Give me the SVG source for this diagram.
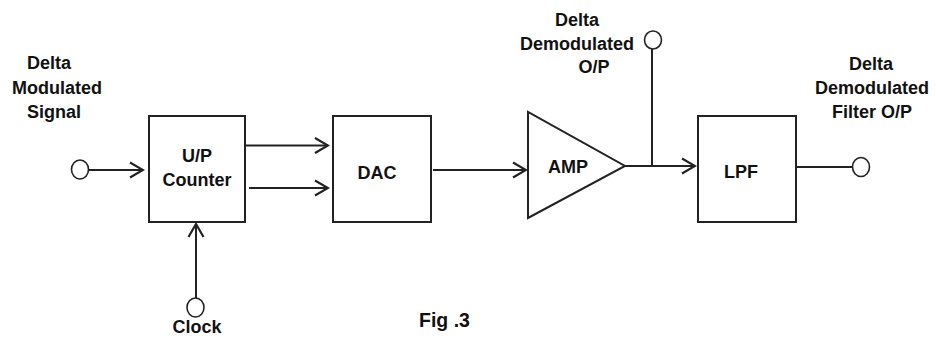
<svg xmlns="http://www.w3.org/2000/svg" width="936" height="338" viewBox="0 0 936 338">
<style>
.box{fill:#fff;stroke:#222;stroke-width:2}
.ln{fill:none;stroke:#222;stroke-width:2}
.term{fill:none;stroke:#222;stroke-width:1.6}
text{font-family:"Liberation Sans",Arial,sans-serif;font-weight:bold;font-size:18px;fill:#111}
.c{text-anchor:middle}
</style>
<defs>
<marker id="arr" markerUnits="userSpaceOnUse" markerWidth="16" markerHeight="18" refX="14" refY="9" orient="auto" viewBox="0 0 16 18">
<path d="M1,1.5 L14,9 L1,16.5" fill="none" stroke="#222" stroke-width="2.2"/>
</marker>
</defs>
<rect width="936" height="338" fill="#fff"/>
<g id="connectors">
<line class="ln" x1="89" y1="170" x2="143" y2="170" marker-end="url(#arr)"/>
<line class="ln" x1="245" y1="145.5" x2="328" y2="145.5" marker-end="url(#arr)"/>
<line class="ln" x1="249" y1="188" x2="328" y2="188" marker-end="url(#arr)"/>
<line class="ln" x1="433" y1="170" x2="526" y2="170" marker-end="url(#arr)"/>
<line class="ln" x1="625" y1="166" x2="695" y2="166" marker-end="url(#arr)"/>
<line class="ln" x1="652" y1="49" x2="652" y2="166"/>
<line class="ln" x1="794" y1="167" x2="852" y2="167"/>
<line class="ln" x1="196" y1="298" x2="196" y2="224" marker-end="url(#arr)"/>
</g>
<g id="in-terminal">
<ellipse class="term" cx="80" cy="169.5" rx="8.5" ry="9.5"/>
<text x="27" y="69">Delta</text>
<text x="12" y="94">Modulated</text>
<text x="27" y="118">Signal</text>
</g>
<g id="counter">
<rect class="box" x="149" y="116" width="96" height="106"/>
<text class="c" x="197" y="162">U/P</text>
<text class="c" x="197" y="186">Counter</text>
</g>
<g id="clock">
<ellipse class="term" cx="195.5" cy="307.5" rx="8.5" ry="9.5"/>
<text class="c" x="197" y="333">Clock</text>
</g>
<g id="dac">
<rect class="box" x="333" y="116" width="98" height="106"/>
<text class="c" x="377" y="179">DAC</text>
</g>
<g id="amp">
<polygon class="box" points="528,112 528,218 625,166"/>
<text class="c" x="568" y="173">AMP</text>
</g>
<g id="demod-out">
<ellipse class="term" cx="653" cy="40" rx="8.5" ry="9"/>
<text class="c" x="577" y="26">Delta</text>
<text class="c" x="577" y="50">Demodulated</text>
<text class="c" x="594" y="73">O/P</text>
</g>
<g id="lpf">
<rect class="box" x="698" y="116" width="98" height="106"/>
<text class="c" x="741" y="178">LPF</text>
</g>
<g id="filter-out">
<ellipse class="term" cx="861" cy="167" rx="8.5" ry="9.5"/>
<text class="c" x="871" y="70">Delta</text>
<text class="c" x="872" y="94">Demodulated</text>
<text class="c" x="872" y="118">Filter O/P</text>
</g>
<g id="caption">
<text x="419" y="327" style="font-size:19.5px">Fig .3</text>
</g>
</svg>
